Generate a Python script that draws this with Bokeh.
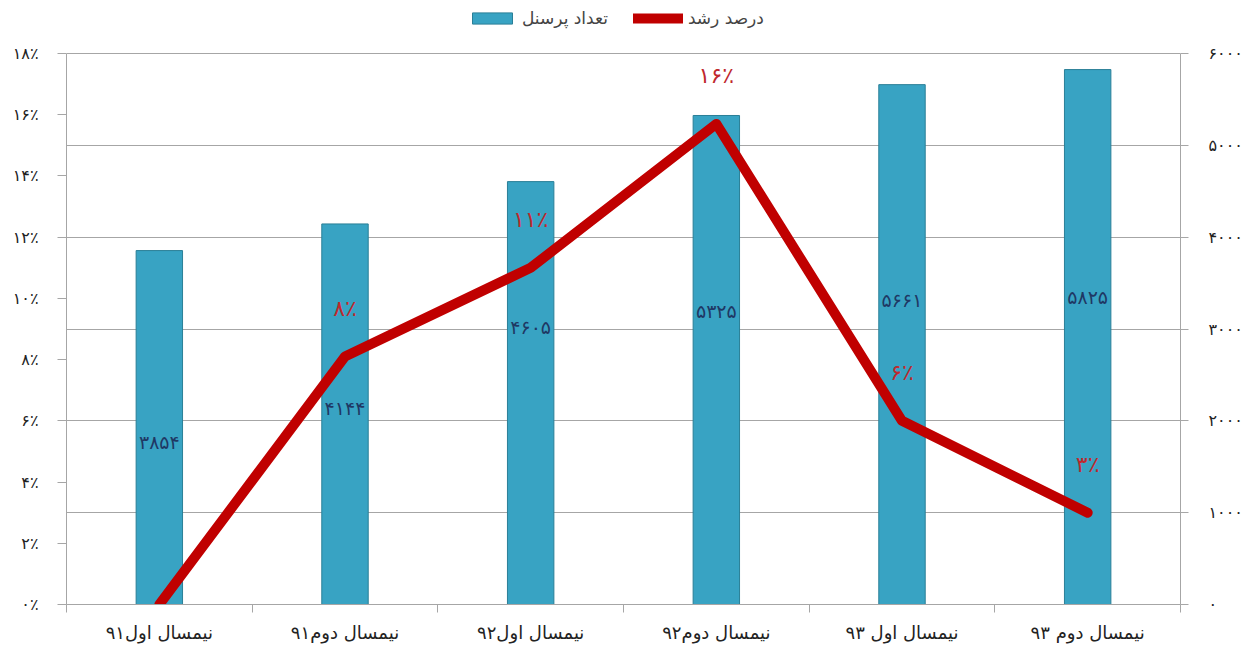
from bokeh.plotting import figure
from bokeh.models import (Range1d, LinearAxis, FixedTicker, Legend, LegendItem,
                          ColumnDataSource)
from bokeh.core.properties import value
from bokeh.embed import file_html
from bokeh.resources import INLINE

# ---------------- data ----------------
categories = ["نیمسال اول۹۱", "نیمسال دوم۹۱", "نیمسال اول۹۲",
              "نیمسال دوم۹۲", "نیمسال اول ۹۳", "نیمسال دوم ۹۳"]
personnel = [3854, 4144, 4605, 5325, 5661, 5825]
personnel_labels = ["۳۸۵۴", "۴۱۴۴", "۴۶۰۵", "۵۳۲۵", "۵۶۶۱", "۵۸۲۵"]
growth = [0, 8.1, 11.0, 15.7, 6.0, 3.0]
growth_labels = ["", "۸٪", "۱۱٪", "۱۶٪", "۶٪", "۳٪"]
left_ticks = [0, 2, 4, 6, 8, 10, 12, 14, 16, 18]
left_tick_labels = ["۰٪", "۲٪", "۴٪", "۶٪", "۸٪", "۱۰٪", "۱۲٪", "۱۴٪", "۱۶٪", "۱۸٪"]
right_ticks = [0, 1000, 2000, 3000, 4000, 5000, 6000]
right_tick_labels = ["۰", "۱۰۰۰", "۲۰۰۰", "۳۰۰۰", "۴۰۰۰", "۵۰۰۰", "۶۰۰۰"]
legend_labels = ["تعداد پرسنل", "درصد رشد"]

# label placement (layout only) for the value labels inside the bars
bar_label_y = [1765, 2135, 3017, 3192, 3312, 3344]

FONT = "DejaVu Sans"
GRID = "#a6a6a6"

# head-room above the axes (for the legend), same ratio on both scales
HEAD = 1.0962
LMAX, RMAX = 18, 6000

xs = [i + 0.5 for i in range(len(categories))]
src = ColumnDataSource(dict(x=xs, count=personnel, clab=personnel_labels,
                            cy=bar_label_y, g=growth, glab=growth_labels))

p = figure(width=1255, height=654, output_backend="svg", toolbar_location=None,
           x_range=Range1d(0, len(categories)), y_range=Range1d(0, LMAX * HEAD),
           min_border_left=66, min_border_right=75, min_border_top=0,
           min_border_bottom=50)
p.outline_line_color = None
p.background_fill_color = "white"
p.border_fill_color = "white"

p.extra_y_ranges = {"count": Range1d(0, RMAX * HEAD)}

# grid (aligned with right-axis thousands: 1000 == 3%)
p.xgrid.visible = False
p.ygrid.ticker = FixedTicker(ticks=[0, 3, 6, 9, 12, 15, 18])
p.ygrid.grid_line_color = GRID
p.ygrid.grid_line_width = 1

# left axis
ly = p.yaxis[0]
ly.ticker = FixedTicker(ticks=left_ticks)
ly.bounds = (0, LMAX)
ly.major_label_overrides = dict(zip(left_ticks, left_tick_labels))
ly.major_label_text_font = FONT
ly.major_label_text_font_size = "16px"
ly.major_label_text_color = "#222222"
ly.axis_line_color = GRID
ly.major_tick_line_color = GRID
ly.major_tick_out = 9
ly.major_tick_in = 0
ly.minor_tick_line_color = None
ly.major_label_standoff = 19

# right axis
ry = LinearAxis(y_range_name="count", ticker=FixedTicker(ticks=right_ticks),
                bounds=(0, RMAX))
ry.major_label_overrides = dict(zip(right_ticks, right_tick_labels))
ry.major_label_text_font = FONT
ry.major_label_text_font_size = "16px"
ry.major_label_text_color = "#222222"
ry.axis_line_color = GRID
ry.major_tick_line_color = GRID
ry.major_tick_out = 8
ry.major_tick_in = 0
ry.minor_tick_line_color = None
ry.major_label_standoff = 20
p.add_layout(ry, "right")

# x axis: labels at centres, ticks at category boundaries
xa = p.xaxis[0]
xa.ticker = FixedTicker(ticks=xs, minor_ticks=list(range(len(categories) + 1)))
xa.major_label_overrides = dict(zip(xs, categories))
xa.major_label_text_font = FONT
xa.major_label_text_font_size = "18px"
xa.major_label_text_color = "#222222"
xa.axis_line_color = GRID
xa.major_tick_out = 0
xa.major_tick_in = 0
xa.minor_tick_line_color = GRID
xa.minor_tick_out = 8
xa.minor_tick_in = 0
xa.major_label_standoff = 9

# bars
bars = p.vbar(x="x", top="count", bottom=0, width=0.25, source=src,
              y_range_name="count", fill_color="#38a3c3",
              line_color="#2a7f97", line_width=1)

# growth line
ln = p.line(x="x", y="g", source=src, line_color="#c00000", line_width=10,
            line_join="round", line_cap="round")

# labels
p.text(x="x", y="cy", text="clab", source=src, y_range_name="count",
       text_font=value(FONT), text_font_size="19px", text_color="#1f3864",
       text_align="center", text_baseline="middle")
p.text(x="x", y="g", text="glab", source=src, y_offset=-48,
       text_font=value(FONT), text_font_size="22px", text_color="#c0282d",
       text_align="center", text_baseline="middle")

legend = Legend(items=[LegendItem(label=legend_labels[0], renderers=[bars]),
                       LegendItem(label=legend_labels[1], renderers=[ln])],
                orientation="horizontal", location=(401, 576),
                label_text_font=FONT, label_text_font_size="17px",
                glyph_width=50, glyph_height=14, spacing=25,
                border_line_color=None, background_fill_alpha=0,
                padding=0, margin=0)
p.add_layout(legend, "center")

open("out.html", "w").write(file_html(p, INLINE))
